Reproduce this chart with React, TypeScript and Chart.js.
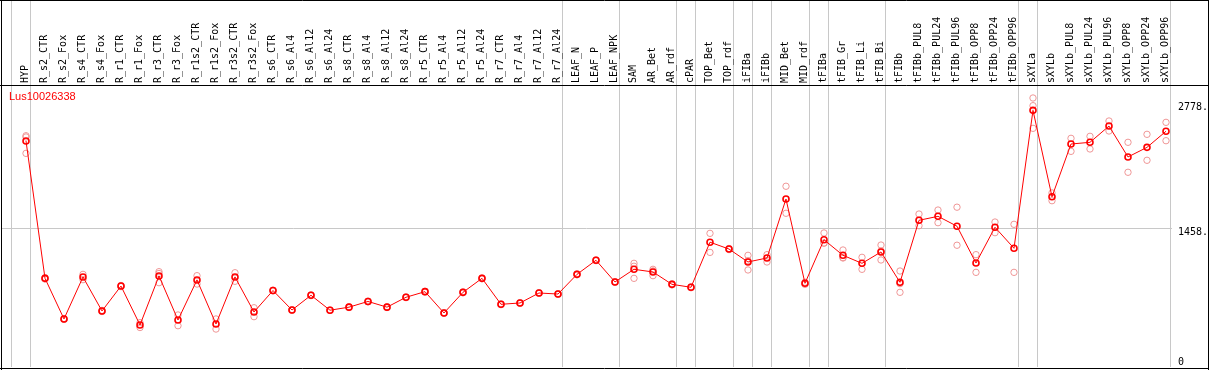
import { useEffect, useRef } from 'react';
import { Chart, registerables } from 'chart.js';

Chart.register(...registerables);

const geneName = 'Lus10026338';

const categories = [
  'HYP', 'R_s2_CTR', 'R_s2_Fox', 'R_s4_CTR', 'R_s4_Fox', 'R_r1_CTR', 'R_r1_Fox', 'R_r3_CTR', 'R_r3_Fox',
  'R_r1s2_CTR', 'R_r1s2_Fox', 'R_r3s2_CTR', 'R_r3s2_Fox', 'R_s6_CTR', 'R_s6_Al4', 'R_s6_Al12', 'R_s6_Al24',
  'R_s8_CTR', 'R_s8_Al4', 'R_s8_Al12', 'R_s8_Al24', 'R_r5_CTR', 'R_r5_Al4', 'R_r5_Al12', 'R_r5_Al24',
  'R_r7_CTR', 'R_r7_Al4', 'R_r7_Al12', 'R_r7_Al24', 'LEAF_N', 'LEAF_P', 'LEAF_NPK', 'SAM', 'AR_Bet', 'AR_rdf',
  'cPAR', 'TOP_Bet', 'TOP_rdf', 'iFIBa', 'iFIBb', 'MID_Bet', 'MID_rdf', 'tFIBa', 'tFIB_Gr', 'tFIB_Li', 'tFIB_Bi',
  'tFIBb', 'tFIBb_PUL8', 'tFIBb_PUL24', 'tFIBb_PUL96', 'tFIBb_OPP8', 'tFIBb_OPP24', 'tFIBb_OPP96', 'sXYLa',
  'sXYLb', 'sXYLb_PUL8', 'sXYLb_PUL24', 'sXYLb_PUL96', 'sXYLb_OPP8', 'sXYLb_OPP24', 'sXYLb_OPP96',
];

const meanValues = [
  2376, 932, 505, 946, 589, 851, 442, 957, 494,
  915, 452, 946, 578, 804, 599, 754, 597,
  629, 689, 629, 733, 792, 568, 785, 932,
  659, 673, 778, 767, 974, 1122, 894, 1027, 999, 869,
  838, 1312, 1240, 1104, 1146, 1766, 880, 1338, 1174, 1090, 1209,
  890, 1542, 1584, 1480, 1093, 1469, 1248, 2698,
  1790, 2344, 2362, 2533, 2208, 2309, 2478,
];

const repA = [
  2431, 940, 510, 974, 595, 857, 466, 1002, 547,
  960, 505, 991, 623, 808, 603, 758, 600,
  633, 693, 633, 737, 796, 572, 789, 936,
  663, 677, 782, 771, 978, 1126, 898, 1090, 1027, 875,
  843, 1405, 1246, 1174, 1181, 1900, 891, 1409, 1230, 1153, 1282,
  1009, 1608, 1650, 1680, 1181, 1524, 1500, 2828,
  1830, 2404, 2425, 2586, 2362, 2446, 2572,
];

const repB = [
  2418, 925, 500, 918, 583, 845, 415, 886, 434,
  872, 399, 901, 529, 800, 595, 750, 594,
  625, 685, 625, 729, 788, 564, 781, 928,
  655, 669, 774, 763, 970, 1118, 890, 932, 960, 863,
  833, 1205, 1234, 1020, 1104, 1616, 869, 1303, 1146, 1027, 1125,
  785, 1485, 1517, 1280, 995, 1412, 995, 2747,
  1748, 2267, 2292, 2481, 2047, 2173, 2379,
];

const repC = [
  2246, null, null, null, null, null, null, 983, null,
  null, null, null, null, null, null, null, null,
  null, null, null, null, null, null, null, null,
  null, null, null, null, null, null, null, 1059, 1010, null,
  null, null, null, 1118, null, null, null, 1302, 1150, null, 1220,
  876, null, null, null, null, null, null, 2509,
  null, null, null, null, null, null, null,
];

// index of the last category of each group (separator drawn after it)
const groupEnds = [-1, 0, 28, 31, 34, 35, 37, 38, 39, 41, 42, 45, 52, 53, 60];

const yTickValues = [0, 1458, 2778];
const yTickLabels = ['0', '1458.', '2778.'];

const noPadding = (s: any) => {
  s.paddingLeft = 0;
  s.paddingRight = 0;
  s.paddingTop = 0;
  s.paddingBottom = 0;
};

export default function App() {
  const canvasRef = useRef<HTMLCanvasElement | null>(null);

  useEffect(() => {
    const canvas = canvasRef.current;
    if (!canvas) return;

    const meanPoints = meanValues.map((v, i) => ({ x: i, y: v }));
    const repPoints: { x: number; y: number }[] = [];
    [repA, repB, repC].forEach((arr) => {
      arr.forEach((v, i) => {
        if (v !== null && v !== undefined) repPoints.push({ x: i, y: v as number });
      });
    });

    const xMin = -1.3158;
    const xMax = 60.316;

    const framePlugin = {
      id: 'frame',
      afterDraw(chart: any) {
        const { ctx, chartArea, width, height } = chart;
        ctx.save();
        ctx.strokeStyle = '#000';
        ctx.lineWidth = 1;
        ctx.beginPath();
        ctx.moveTo(0, 0.5); ctx.lineTo(width, 0.5);
        ctx.moveTo(0, chartArea.top - 0.5); ctx.lineTo(width, chartArea.top - 0.5);
        ctx.moveTo(0, chartArea.bottom + 1.5); ctx.lineTo(width, chartArea.bottom + 1.5);
        ctx.moveTo(chartArea.left + 0.5, 0); ctx.lineTo(chartArea.left + 0.5, height);
        ctx.moveTo(width - 0.5, 0); ctx.lineTo(width - 0.5, height);
        ctx.stroke();
        ctx.fillStyle = '#ff0000';
        ctx.font = '11px "Liberation Sans", Arial, sans-serif';
        ctx.textBaseline = 'middle';
        ctx.textAlign = 'left';
        ctx.fillText(geneName, chartArea.left + 8, chartArea.top + 11);
        ctx.restore();
      },
    };

    const chart = new Chart(canvas, {
      type: 'line',
      data: {
        datasets: [
          {
            type: 'line',
            data: meanPoints,
            borderColor: '#ff0000',
            borderWidth: 1,
            pointRadius: 3,
            pointBorderWidth: 1.6,
            pointBorderColor: '#ff0000',
            pointBackgroundColor: 'rgba(0,0,0,0)',
            tension: 0,
            xAxisID: 'x',
            yAxisID: 'y',
          },
          {
            type: 'scatter',
            data: repPoints,
            showLine: false,
            pointRadius: 3.2,
            pointBorderWidth: 1,
            pointBorderColor: '#ef9696',
            pointBackgroundColor: 'rgba(0,0,0,0)',
            xAxisID: 'x',
            yAxisID: 'y',
          } as any,
        ],
      },
      options: {
        animation: false,
        responsive: false,
        devicePixelRatio: 1,
        layout: { autoPadding: false, padding: { left: 1, top: 0, right: 0, bottom: 3 } },
        plugins: { legend: { display: false }, tooltip: { enabled: false } },
        scales: {
          x: {
            type: 'linear',
            position: 'top',
            weight: 1,
            min: xMin,
            max: xMax,
            afterBuildTicks: (s: any) => {
              s.ticks = categories.map((_, i) => ({ value: i }));
            },
            afterFit: (s: any) => {
              s.height = 86;
              noPadding(s);
            },
            grid: { display: false, drawTicks: false },
            border: { display: false },
            ticks: {
              autoSkip: false,
              minRotation: 90,
              maxRotation: 90,
              padding: 3,
              labelOffset: 11,
              color: '#000',
              font: { family: '"DejaVu Sans Mono", monospace', size: 10 },
              callback: (v: any) => categories[v as number] ?? '',
            },
          },
          xSep: {
            type: 'linear',
            position: 'top',
            weight: 0,
            min: xMin,
            max: xMax,
            afterBuildTicks: (s: any) => {
              s.ticks = groupEnds.map((g) => ({ value: g + 0.25 }));
            },
            afterFit: (s: any) => {
              s.height = 0;
              noPadding(s);
            },
            grid: { color: '#c8c8c8', lineWidth: 1, drawTicks: true, tickLength: 86 },
            border: { display: false },
            ticks: { display: false },
          },
          y: {
            type: 'linear',
            position: 'right',
            min: 0,
            max: 2954,
            afterBuildTicks: (s: any) => {
              s.ticks = yTickValues.map((v) => ({ value: v }));
            },
            afterFit: (s: any) => {
              s.width = 37;
              noPadding(s);
            },
            grid: {
              color: (c: any) => (c.tick && c.tick.value === 1458 ? '#c8c8c8' : 'rgba(0,0,0,0)'),
              drawTicks: false,
            },
            border: { display: false },
            ticks: {
              padding: 6,
              color: '#000',
              font: { family: '"DejaVu Sans Mono", monospace', size: 10, lineHeight: 0.9 },
              callback: (v: any) => {
                const idx = yTickValues.indexOf(v as number);
                const label = idx >= 0 ? yTickLabels[idx] : '';
                return v === 0 ? [label, ''] : ['', label];
              },
            },
          },
        },
      } as any,
      plugins: [framePlugin],
    });

    return () => chart.destroy();
  }, []);

  return (
    <div style={{ position: 'absolute', left: 0, top: 0, width: 1209, height: 370, background: '#fff' }}>
      <canvas ref={canvasRef} width={1209} height={370} />
    </div>
  );
}
